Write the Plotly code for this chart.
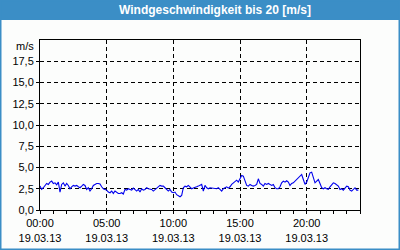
import pandas as pd
import plotly.graph_objects as go

# Wind speed [m/s], sampled every 7.5 minutes on 19.03.2013
wind_ms = [
    2.81, 2.42, 2.62, 2.89, 3.12, 3.01, 3.28, 3.40, 3.12, 3.20, 2.97, 3.28, 2.11, 3.01, 3.20, 2.81,
    3.12, 2.89, 2.50, 2.73, 2.89, 2.81, 2.89, 2.73, 2.62, 2.81, 3.01, 2.89, 2.42, 2.62, 2.23, 2.50,
    2.89, 3.01, 3.12, 3.12, 3.05, 2.73, 2.50, 2.42, 2.34, 2.11, 2.03, 2.23, 1.95, 2.23, 2.11, 1.95,
    1.95, 2.03, 1.88, 2.42, 2.34, 2.50, 2.42, 2.34, 2.58, 2.34, 2.23, 2.42, 2.11, 2.50, 2.34, 2.42,
    2.62, 2.50, 2.50, 2.42, 2.23, 2.42, 2.62, 2.81, 2.89, 2.81, 2.81, 2.62, 2.42, 2.23, 2.42, 2.11,
    2.03, 2.11, 1.80, 1.64, 1.56, 1.72, 2.62, 2.81, 2.73, 2.89, 2.62, 2.50, 2.58, 2.62, 2.73, 2.81,
    2.89,
    3.01, 2.23, 2.89, 2.62, 2.50, 2.62, 2.58, 2.62, 2.58, 2.50, 2.62, 2.42, 2.23, 2.50, 2.62, 2.73,
    2.58, 2.73, 3.01, 3.20, 3.40, 3.51, 3.28, 3.79, 4.06, 3.98, 3.51, 2.89, 2.81, 3.01, 2.89, 2.81,
    2.89, 3.01, 3.67, 3.12, 3.01, 2.81, 3.12, 3.01, 3.12, 3.01, 2.89, 3.01, 2.62, 2.50, 2.50, 2.73,
    3.20, 3.40, 3.28, 3.44, 3.28, 2.89, 3.12, 3.20, 3.40, 3.59, 3.79, 3.98, 4.18, 3.59, 3.01, 3.28,
    3.79, 4.37, 4.45, 3.79, 3.20, 3.40, 3.59, 3.12, 2.62, 2.50, 2.62, 2.50, 2.42, 2.73, 3.01, 3.20,
    3.12, 3.01, 2.81, 2.42, 2.50, 2.34, 2.62, 2.81, 2.73, 2.34, 2.23, 2.42, 2.62, 2.34, 2.34,
]
times = pd.date_range("2013-03-19 00:00", periods=len(wind_ms), freq="450s")

title_text = "Windgeschwindigkeit bis 20 [m/s]"
y_unit = "m/s"
x_tick_vals = ["2013-03-19 00:00", "2013-03-19 05:00", "2013-03-19 10:00",
               "2013-03-19 15:00", "2013-03-19 20:00"]
x_tick_text = ["00:00<br>19.03.13", "05:00<br>19.03.13", "10:00<br>19.03.13",
               "15:00<br>19.03.13", "20:00<br>19.03.13"]
y_tick_vals = [0, 2.5, 5, 7.5, 10, 12.5, 15, 17.5]

BLUE = "#3b8ec6"
FONT = "Liberation Sans"

# plot area in pixels: x 40..360, y 40..210
def px(x):
    return (x - 40) / 320.0

def py(y):
    return (210 - y) / 170.0

fig = go.Figure()
fig.add_trace(go.Scatter(x=times, y=wind_ms, mode="lines",
                         line=dict(color="#0000ee", width=1.1), hoverinfo="skip"))

fig.update_layout(
    width=400, height=250,
    margin=dict(l=40, r=40, t=40, b=40, autoexpand=False),
    paper_bgcolor="#fcfdfc", plot_bgcolor="#fcfdfc",
    showlegend=False,
    separators=",.",
    font=dict(family=FONT, size=11, color="#000000"),
    xaxis=dict(
        type="date",
        range=["2013-03-19 00:00", "2013-03-20 00:00"],
        tickvals=x_tick_vals, ticktext=x_tick_text,
        ticks="outside", ticklen=3, tickcolor="#000", tickwidth=1,
        showgrid=True, gridcolor="#000", gridwidth=1, griddash="4px,3px",
        showline=True, linecolor="#000", linewidth=1, mirror=True,
        zeroline=False, automargin=False,
        minor=dict(ticks="outside", ticklen=3, tickcolor="#000", dtick=3600000, showgrid=False),
        tickfont=dict(family=FONT, size=11, color="#000"),
        fixedrange=True,
    ),
    yaxis=dict(
        range=[0, 20],
        tickvals=y_tick_vals, tickformat=".1f",
        ticks="outside", ticklen=3, tickcolor="#000", tickwidth=1,
        showgrid=True, gridcolor="#000", gridwidth=1, griddash="4px,3px",
        showline=True, linecolor="#000", linewidth=1, mirror=True,
        zeroline=False, automargin=False,
        tickfont=dict(family=FONT, size=11, color="#000"),
        fixedrange=True,
    ),
    shapes=[
        dict(type="rect", xref="paper", yref="paper",
             x0=px(0), x1=px(400), y0=py(20), y1=py(0),
             fillcolor=BLUE, line=dict(width=0), layer="below"),
        dict(type="rect", xref="paper", yref="paper",
             x0=px(0.75), x1=px(399.25), y0=py(249.25), y1=py(0.75),
             fillcolor="rgba(0,0,0,0)", line=dict(color=BLUE, width=1.5)),
    ],
    annotations=[
        dict(text="<b>" + title_text + "</b>", xref="paper", yref="paper",
             x=px(215), y=py(10), xanchor="center", yanchor="middle", showarrow=False,
             font=dict(family=FONT, size=12, color="#ffffff")),
        dict(text=y_unit, xref="paper", yref="paper",
             x=px(36), y=py(46), xanchor="right", yanchor="middle", showarrow=False,
             font=dict(family=FONT, size=11, color="#000")),
    ],
)

fig.write_html("out.html", config={"displayModeBar": False})
